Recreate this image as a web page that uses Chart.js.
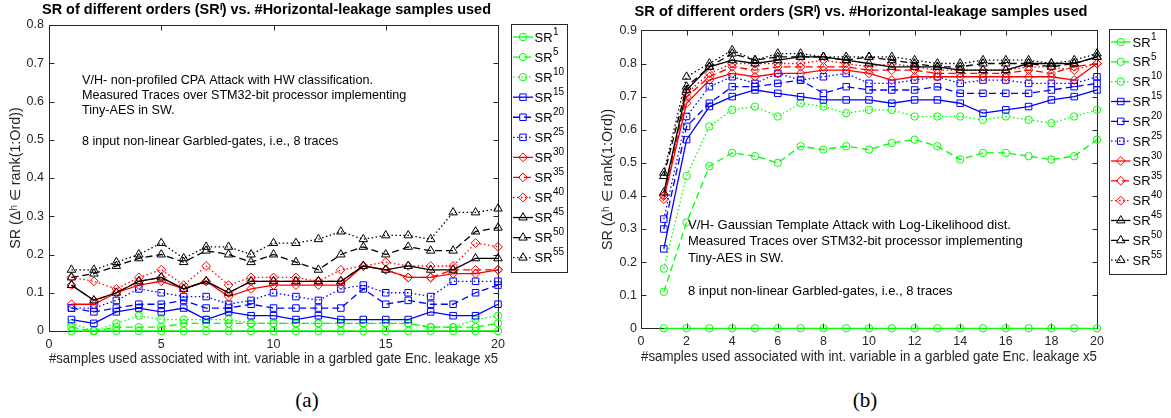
<!DOCTYPE html>
<html><head><meta charset="utf-8">
<script src="https://cdn.jsdelivr.net/npm/chart.js@4.4.1/dist/chart.umd.min.js"></script>
<style>
html,body{margin:0;padding:0;background:#fff;width:1171px;height:418px;overflow:hidden;position:relative}
#ca{position:absolute;left:0;top:0}
#cb{position:absolute;left:580px;top:0}
.cap{position:absolute;top:387px;width:60px;text-align:center;font-family:"Liberation Serif","DejaVu Serif",serif;font-size:21px;line-height:26px;color:#000}
</style></head><body>
<canvas id="ca" width="575" height="370"></canvas>
<canvas id="cb" width="591" height="370"></canvas>
<div class="cap" style="left:277px">(a)</div>
<div class="cap" style="left:835px">(b)</div>
<script>
// ---------- data ----------
const samples = [1,2,3,4,5,6,7,8,9,10,11,12,13,14,15,16,17,18,19,20];
const orders = [1,5,10,15,20,25,30,35,40,45,50,55];

const titleText = 'SR of different orders (SRⁱ) vs. #Horizontal-leakage samples used';
const xTitleText = '#samples used associated with int. variable in a garbled gate Enc. leakage x5';
const yTitleText = 'SR (Δʰ ∈ rank(1:Ord))';

const xTicksA = [0,5,10,15,20];
const xTickLabelsA = ['0','5','10','15','20'];
const yTicksA = [0,0.1,0.2,0.3,0.4,0.5,0.6,0.7,0.8];
const yTickLabelsA = ['0','0.1','0.2','0.3','0.4','0.5','0.6','0.7','0.8'];
const xTicksB = [0,2,4,6,8,10,12,14,16,18,20];
const xTickLabelsB = ['0','2','4','6','8','10','12','14','16','18','20'];
const yTicksB = [0,0.1,0.2,0.3,0.4,0.5,0.6,0.7,0.8,0.9];
const yTickLabelsB = ['0','0.1','0.2','0.3','0.4','0.5','0.6','0.7','0.8','0.9'];

// (a) CPA attack
const srA1  = [0,0,0,0,0,0,0,0,0,0,0,0,0,0,0,0,0,0,0,0];
const srA5  = [0.01,0,0.01,0.01,0.01,0.02,0.02,0.02,0.02,0.02,0.02,0.02,0.02,0.02,0.02,0.02,0.01,0.01,0.01,0.02];
const srA10 = [0.02,0,0.02,0.04,0.03,0.03,0.03,0.03,0.02,0.02,0.02,0.02,0.02,0.02,0.02,0.02,0.01,0.01,0.03,0.04];
const srA15 = [0.03,0.02,0.05,0.06,0.05,0.06,0.03,0.05,0.04,0.04,0.03,0.04,0.03,0.03,0.03,0.03,0.05,0.04,0.04,0.07];
const srA20 = [0.06,0.05,0.06,0.07,0.07,0.08,0.06,0.06,0.07,0.06,0.06,0.06,0.06,0.11,0.07,0.08,0.07,0.07,0.10,0.12];
const srA25 = [0.06,0.06,0.08,0.11,0.10,0.09,0.09,0.07,0.08,0.10,0.09,0.08,0.11,0.12,0.10,0.10,0.09,0.13,0.13,0.13];
const srA30 = [0.07,0.07,0.10,0.12,0.13,0.11,0.13,0.09,0.11,0.12,0.12,0.12,0.12,0.17,0.16,0.14,0.14,0.15,0.15,0.16];
const srA35 = [0.12,0.08,0.10,0.13,0.14,0.11,0.13,0.10,0.13,0.13,0.13,0.13,0.13,0.17,0.16,0.14,0.14,0.16,0.16,0.16];
const srA40 = [0.14,0.13,0.11,0.14,0.16,0.12,0.17,0.12,0.14,0.14,0.14,0.13,0.16,0.17,0.18,0.17,0.17,0.17,0.23,0.22];
const srA45 = [0.12,0.08,0.10,0.13,0.14,0.11,0.13,0.10,0.13,0.13,0.13,0.13,0.13,0.17,0.16,0.17,0.16,0.16,0.19,0.19];
const srA50 = [0.14,0.15,0.17,0.19,0.20,0.18,0.21,0.20,0.18,0.20,0.18,0.16,0.20,0.22,0.20,0.22,0.21,0.21,0.26,0.27];
const srA55 = [0.16,0.16,0.18,0.20,0.23,0.19,0.22,0.22,0.20,0.23,0.23,0.24,0.26,0.24,0.25,0.25,0.24,0.31,0.31,0.32];

// (b) Gaussian template attack
const srB1  = [0,0,0,0,0,0,0,0,0,0,0,0,0,0,0,0,0,0,0,0];
const srB5  = [0.11,0.32,0.49,0.53,0.52,0.50,0.55,0.54,0.55,0.54,0.56,0.57,0.55,0.51,0.53,0.53,0.52,0.51,0.52,0.57];
const srB10 = [0.18,0.46,0.61,0.66,0.67,0.64,0.68,0.67,0.65,0.66,0.66,0.64,0.64,0.64,0.63,0.64,0.63,0.62,0.64,0.66];
const srB15 = [0.24,0.57,0.67,0.70,0.72,0.71,0.70,0.69,0.69,0.69,0.68,0.69,0.69,0.68,0.65,0.66,0.67,0.69,0.70,0.72];
const srB20 = [0.30,0.61,0.68,0.73,0.73,0.74,0.75,0.71,0.73,0.72,0.72,0.72,0.73,0.71,0.71,0.71,0.71,0.72,0.73,0.74];
const srB25 = [0.33,0.64,0.73,0.76,0.74,0.77,0.75,0.76,0.77,0.74,0.74,0.75,0.76,0.74,0.75,0.75,0.74,0.74,0.74,0.76];
const srB30 = [0.39,0.68,0.75,0.77,0.76,0.77,0.77,0.78,0.78,0.77,0.75,0.76,0.76,0.76,0.76,0.76,0.76,0.76,0.75,0.80];
const srB35 = [0.40,0.70,0.76,0.79,0.78,0.79,0.79,0.79,0.79,0.78,0.78,0.78,0.77,0.77,0.77,0.77,0.78,0.77,0.79,0.80];
const srB40 = [0.40,0.71,0.77,0.80,0.80,0.80,0.80,0.81,0.80,0.79,0.80,0.79,0.78,0.78,0.78,0.78,0.79,0.79,0.78,0.80];
const srB45 = [0.41,0.72,0.79,0.81,0.80,0.81,0.82,0.82,0.81,0.80,0.79,0.79,0.79,0.78,0.78,0.78,0.80,0.80,0.80,0.82];
const srB50 = [0.46,0.73,0.79,0.83,0.81,0.82,0.82,0.82,0.81,0.82,0.81,0.80,0.79,0.79,0.80,0.80,0.80,0.79,0.80,0.82];
const srB55 = [0.47,0.76,0.80,0.84,0.81,0.83,0.83,0.82,0.82,0.82,0.82,0.81,0.80,0.80,0.81,0.81,0.81,0.80,0.81,0.83];

const annotA = ['V/H- non-profiled CPA Attack with HW classification.',
                'Measured Traces over STM32-bit processor implementing',
                'Tiny-AES in SW.', '',
                '8 input non-linear Garbled-gates, i.e., 8 traces'];
const annotB = ['V/H- Gaussian Template Attack with Log-Likelihood dist.',
                'Measured Traces over STM32-bit processor implementing',
                'Tiny-AES in SW.', '',
                '8 input non-linear Garbled-gates, i.e., 8 traces'];

// ---------- styles ----------
const FONT = '"Liberation Sans", Arial, Helvetica, sans-serif';
Chart.defaults.font.family = FONT;
const groupColors = ['#00FF00','#0000FF','#FF0000','#000000'];
const groupMarks = ['circle','rect','rectRot','triangle'];
const groupRadius = [3.7,4.6,4.4,4.9];
const dashStyles = [[],[7,4],[1.5,2.5]];

function makeDatasets(series){
  return series.map((vals,i)=>{
    const g = Math.floor(i/3), k = i%3;
    return {
      label: 'SR' + orders[i],
      data: vals.map((v,j)=>({x: samples[j], y: v})),
      borderColor: groupColors[g], borderWidth: 1.3, borderDash: dashStyles[k],
      pointStyle: groupMarks[g], pointRadius: groupRadius[g], pointHoverRadius: groupRadius[g],
      pointBorderWidth: 1, pointBorderColor: groupColors[g],
      pointBackgroundColor: 'rgba(0,0,0,0)', backgroundColor: 'rgba(0,0,0,0)',
      fill: false, tension: 0, clip: false, order: 12 - i
    };
  });
}

const boxPlugin = {
  id: 'mbox',
  afterLayout(chart, args, o){
    const t = chart.titleBlock;
    if (t && o.titleShift) { t.left -= o.titleShift; t.right -= o.titleShift; }
  },
  beforeDatasetsDraw(chart){
    const {ctx, chartArea: a} = chart;
    const x = chart.scales.x, y = chart.scales.y;
    ctx.save();
    ctx.strokeStyle = '#262626'; ctx.lineWidth = 1; ctx.setLineDash([]);
    const l = Math.round(a.left)+0.5, r = Math.round(a.right)+0.5, t = Math.round(a.top)+0.5, b = Math.round(a.bottom)+0.5;
    ctx.strokeRect(l, t, r-l, b-t);
    const L = 5;
    ctx.beginPath();
    x.ticks.forEach(tk=>{
      const px = Math.round(x.getPixelForValue(tk.value))+0.5;
      ctx.moveTo(px,b); ctx.lineTo(px,b-L); ctx.moveTo(px,t); ctx.lineTo(px,t+L);
    });
    y.ticks.forEach(tk=>{
      const py = Math.round(y.getPixelForValue(tk.value))+0.5;
      ctx.moveTo(l,py); ctx.lineTo(l+L,py); ctx.moveTo(r,py); ctx.lineTo(r-L,py);
    });
    ctx.stroke();
    ctx.restore();
  }
};

const legendPlugin = {
  id: 'mlegend',
  afterDraw(chart, args, o){
    const ctx = chart.ctx;
    ctx.save();
    ctx.fillStyle = '#fff'; ctx.strokeStyle = '#262626'; ctx.lineWidth = 1; ctx.setLineDash([]);
    ctx.fillRect(o.left, o.top, o.right-o.left, o.bottom-o.top);
    ctx.strokeRect(o.left+0.5, o.top+0.5, o.right-o.left, o.bottom-o.top);
    chart.data.datasets.forEach((ds,i)=>{
      const yy = o.firstY + i*o.step;
      ctx.strokeStyle = ds.borderColor; ctx.lineWidth = ds.borderWidth;
      ctx.setLineDash(ds.borderDash);
      ctx.beginPath(); ctx.moveTo(o.sampleX, yy); ctx.lineTo(o.sampleX+o.sampleLen, yy); ctx.stroke();
      ctx.setLineDash([]);
      ctx.lineWidth = ds.pointBorderWidth; ctx.strokeStyle = ds.pointBorderColor; ctx.fillStyle = 'rgba(0,0,0,0)';
      Chart.helpers.drawPoint(ctx, {pointStyle: ds.pointStyle, radius: ds.pointRadius, rotation: 0, borderWidth: 1}, o.sampleX+o.sampleLen/2, yy);
      ctx.fillStyle = '#000'; ctx.textBaseline = 'middle'; ctx.textAlign = 'left';
      ctx.font = '13px ' + FONT;
      ctx.fillText('SR', o.textX, yy+1);
      const w = ctx.measureText('SR').width;
      ctx.font = '10px ' + FONT;
      ctx.fillText(ds.label.slice(2), o.textX + w + 0.5, yy - 5);
    });
    ctx.restore();
  }
};

const annotPlugin = {
  id: 'mannot',
  afterDatasetsDraw(chart, args, o){
    const ctx = chart.ctx;
    const px = chart.scales.x.getPixelForValue(o.x), py = chart.scales.y.getPixelForValue(o.y);
    ctx.save();
    ctx.fillStyle = '#000'; ctx.font = o.size + 'px ' + FONT;
    ctx.textBaseline = 'middle'; ctx.textAlign = 'left';
    o.lines.forEach((ln,i)=>{ if (ln) ctx.fillText(ln, px, py + i*o.step); });
    ctx.restore();
  }
};

function makeChart(id, series, cfg){
  return new Chart(document.getElementById(id), {
    type: 'line',
    data: { datasets: makeDatasets(series) },
    options: {
      responsive: false, animation: false, devicePixelRatio: 1,
      layout: { padding: { left: 0, right: cfg.padRight, top: 0, bottom: 0 } },
      plugins: {
        legend: { display: false }, tooltip: { enabled: false },
        title: { display: true, text: titleText, fullSize: false, color: '#000',
                 font: { size: 14.6, weight: 'bold', family: FONT, lineHeight: 1.2 },
                 padding: { top: cfg.titleTop, bottom: cfg.titleBottom } },
        mbox: { titleShift: cfg.titleShift },
        mlegend: cfg.legend,
        mannot: cfg.annot
      },
      scales: {
        x: {
          type: 'linear', min: 0, max: 20,
          afterBuildTicks: s => { s.ticks = cfg.xTicks.map(v=>({value: v})); },
          afterFit: s => { s.height = cfg.xHeight; },
          grid: { display: false, drawTicks: false }, border: { display: false },
          ticks: { padding: cfg.xPad, color: '#262626', font: { size: 12.5, lineHeight: 1.2 }, maxRotation: 0, autoSkip: false,
                   callback: (v, i) => cfg.xLabels[i] },
          title: { display: true, text: xTitleText, color: '#262626', font: { size: 14.3, lineHeight: 1.2 },
                   padding: { top: 0, bottom: cfg.xTitlePad } }
        },
        y: {
          type: 'linear', min: 0, max: cfg.yMax,
          afterBuildTicks: s => { s.ticks = cfg.yTicks.map(v=>({value: v})); },
          afterFit: s => { s.width = cfg.yWidth; },
          grid: { display: false, drawTicks: false }, border: { display: false },
          ticks: { padding: cfg.yPad, color: '#262626', font: { size: 12.5, lineHeight: 1.2 }, autoSkip: false,
                   callback: (v, i) => cfg.yLabels[i] },
          title: { display: true, text: yTitleText, color: '#262626', font: { size: 14.3, lineHeight: 1.2 },
                   padding: { top: cfg.yTitlePad, bottom: 0 } }
        }
      }
    },
    plugins: [boxPlugin, annotPlugin, legendPlugin]
  });
}

makeChart('ca', [srA1,srA5,srA10,srA15,srA20,srA25,srA30,srA35,srA40,srA45,srA50,srA55], {
  padRight: 77, titleTop: 1.3, titleBottom: 6.2, titleShift: 7, xHeight: 39, xPad: 6.5, xTitlePad: 2.4,
  yWidth: 49, yPad: 5, yTitlePad: 7.4, yMax: 0.8,
  xTicks: xTicksA, xLabels: xTickLabelsA, yTicks: yTicksA, yLabels: yTickLabelsA,
  legend: { left: 511, right: 567, top: 24, bottom: 272, firstY: 37, step: 20.06, sampleX: 513, sampleLen: 20, textX: 534.5 },
  annot: { x: 1.47, y: 0.656, lines: annotA, step: 15.3, size: 12.6 }
});

makeChart('cb', [srB1,srB5,srB10,srB15,srB20,srB25,srB30,srB35,srB40,srB45,srB50,srB55], {
  padRight: 74, titleTop: 3.3, titleBottom: 9.6, titleShift: 8, xHeight: 41.7, xPad: 5.9, xTitlePad: 4.4,
  yWidth: 61, yPad: 4, yTitlePad: 19.4, yMax: 0.9,
  xTicks: xTicksB, xLabels: xTickLabelsB, yTicks: yTicksB, yLabels: yTickLabelsB,
  legend: { left: 529, right: 586, top: 29, bottom: 274, firstY: 42, step: 19.83, sampleX: 531, sampleLen: 19.5, textX: 552.5 },
  annot: { x: 2.06, y: 0.312, lines: annotB, step: 16.5, size: 13 }
});
</script>
</body></html>
